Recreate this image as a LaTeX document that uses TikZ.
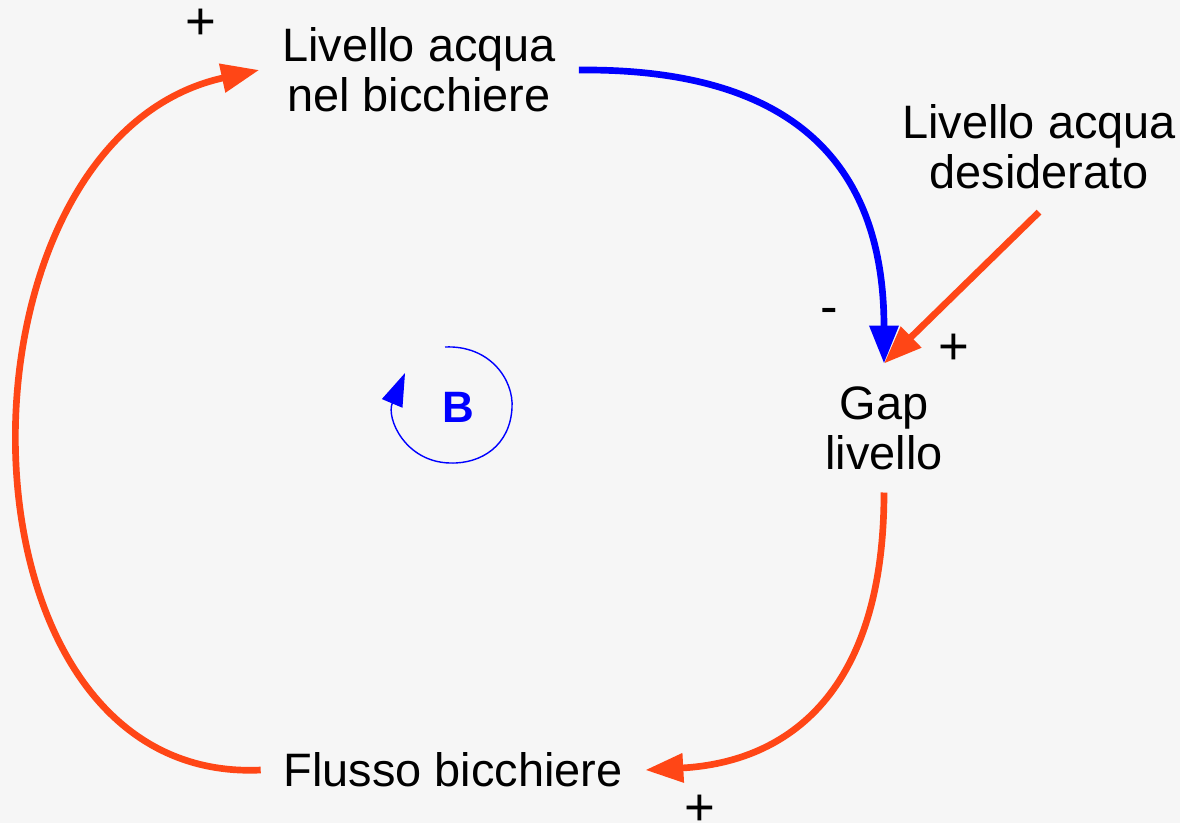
\documentclass[tikz,border=0pt]{standalone}
\usepackage{fontspec}
\setmainfont{Liberation Sans}
\usetikzlibrary{arrows.meta}
\definecolor{linkred}{HTML}{FF4616}
\definecolor{linkblue}{HTML}{0000FF}
\definecolor{paper}{HTML}{F6F6F6}

\begin{document}
\begin{tikzpicture}[x=0.02cm,y=-0.02cm,
		var/.style={align=center,inner sep=0.45cm,font=\fontsize{26.7}{28.5}\selectfont},
		sign/.style={inner sep=0pt,font=\fontsize{30}{32}\selectfont},
		link/.style={line width=3.8pt,-{Triangle[length=0.76cm,width=0.56cm]}}]
	\fill[paper] (0,0) rectangle (1180,823);
	\useasboundingbox (0,0) rectangle (1180,823);
	% variables
	\node[var] (livello) at (419,70) {Livello acqua\\nel bicchiere};
	\node[var] (desiderato) at (1039,147) {Livello acqua\\desiderato};
	\node[var] (gap) at (884,428) {Gap\\livello};
	\node[var] (flusso) at (453,770) {Flusso bicchiere};
	% links
	\draw[link,linkblue] (livello.east) .. controls (800,68) and (884,170) .. (gap.north);
	\draw[link,linkred] (desiderato.south) -- (gap.north);
	\draw[link,linkred] (gap.south) .. controls (884,690) and (790,762) .. (flusso.east);
	\draw[link,linkred] (flusso.west) .. controls (-60,785) and (-60,140) .. (livello.west);
	% polarities
	\node[sign] (plusA) at (201,24) {+};
	\node[sign] (minusB) at (829,316) {-};
	\node[sign] (plusC) at (954,349) {+};
	\node[sign] (plusD) at (700,810) {+};
	% loop
	\node[text=linkblue,font=\bfseries\fontsize{25}{28}\selectfont] (loopB) at (458,407) {B};
	\draw[linkblue,line width=0.8pt,-{Triangle[length=0.66cm,width=0.44cm]}]
		(445,347) .. controls (490,345) and (514,380) .. (512,408)
		.. controls (510,445) and (482,464) .. (450,463)
		.. controls (405,462) and (386,418) .. (405,373);
\end{tikzpicture}
\end{document}
